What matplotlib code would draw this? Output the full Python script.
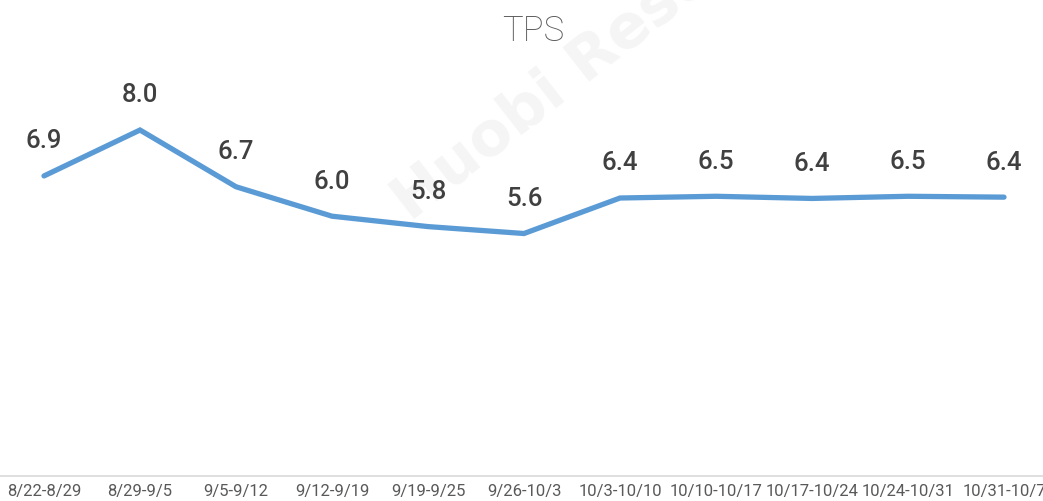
import matplotlib.pyplot as plt

# weekly TPS data
weeks = ['8/22-8/29', '8/29-9/5', '9/5-9/12', '9/12-9/19', '9/19-9/25', '9/26-10/3',
         '10/3-10/10', '10/10-10/17', '10/17-10/24', '10/24-10/31', '10/31-10/7']
tps = [6.93, 7.99, 6.68, 6.00, 5.76, 5.60, 6.42, 6.46, 6.41, 6.46, 6.44]

fig = plt.figure(figsize=(10.43, 5.02), dpi=100)
ax = fig.add_axes([-4 / 1043, 1 - 477 / 502, 1056 / 1043, 433 / 502])

x = list(range(len(weeks)))

# faint watermark, behind everything
ax.text(410 / 1043, 1 - 222 / 502, 'Huobi Research', rotation=38, fontsize=44,
        fontweight='bold', color='#f5f5f5', ha='left', va='baseline',
        rotation_mode='anchor', family='DejaVu Sans', zorder=0,
        transform=fig.transFigure, clip_on=False)

ax.plot(x, tps, color='#5B9BD5', linewidth=3.8, solid_capstyle='round',
        solid_joinstyle='miter', zorder=3)

for i, v in enumerate(tps):
    ax.annotate('%.1f' % v, (i, v), xytext=(0, 17), textcoords='offset points',
                ha='center', va='bottom', fontsize=18.5, color='#404040',
                family='Roboto', fontweight='medium', zorder=4)

ax.set_xlim(-0.5, len(weeks) - 0.5)
ax.set_ylim(0, 10)
ax.set_xticks(x)
ax.set_xticklabels(weeks, fontsize=12, color='#595959', family='Roboto')
ax.set_yticks([])
ax.tick_params(axis='x', length=0, pad=5)

for s in ['top', 'left', 'right']:
    ax.spines[s].set_visible(False)
ax.spines['bottom'].set_color('#d9d9d9')
ax.spines['bottom'].set_linewidth(1.2)
ax.patch.set_alpha(0)

fig.text(533 / 1043, 1 - 31 / 502, 'TPS', ha='center', va='center', fontsize=25,
         color='#595959', family='Roboto', fontweight='light')

plt.savefig('out.png', format='png', dpi=100)
